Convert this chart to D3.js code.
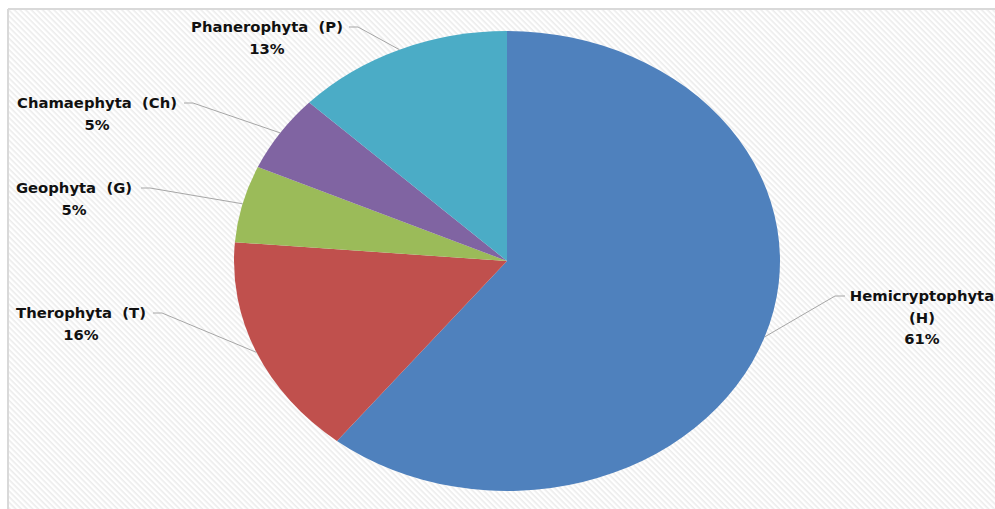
<!DOCTYPE html>
<html><head><meta charset="utf-8">
<script src="https://cdn.jsdelivr.net/npm/d3@7"></script>
<style>body{margin:0;background:#fff;}svg{display:block;}</style>
</head><body>
<svg id="c" width="995" height="509"></svg>
<script>
const categories = ["Hemicryptophyta (H)", "Therophyta  (T)", "Geophyta  (G)", "Chamaephyta  (Ch)", "Phanerophyta  (P)"];
const values = [60.7, 15.6, 5.4, 5.4, 12.9];
const colors = ["#4F81BD", "#C0504D", "#9BBB59", "#8064A2", "#4BACC6"];

// label layout (anchor x, first line baseline y, leader start x, side)
const labelLayout = [
  {lines:["Hemicryptophyta","(H)"], x:922, y:301, lx:845, side:"right"},
  {lines:["Therophyta  (T)"], x:81, y:318, lx:153, side:"left"},
  {lines:["Geophyta  (G)"], x:74, y:193, lx:141, side:"left"},
  {lines:["Chamaephyta  (Ch)"], x:97, y:108, lx:184, side:"left"},
  {lines:["Phanerophyta  (P)"], x:267, y:32, lx:349, side:"left"}
];

const svg = d3.select("#c");
const defs = svg.append("defs");
const pat = defs.append("pattern").attr("id","hatch").attr("patternUnits","userSpaceOnUse")
  .attr("width",4).attr("height",4).attr("patternTransform","rotate(45)");
pat.append("rect").attr("width",4).attr("height",4).attr("fill","#ffffff");
pat.append("rect").attr("width",4).attr("height",1.6).attr("fill","#ececec");

svg.append("rect").attr("x",8).attr("y",9).attr("width",995).attr("height",509).attr("fill","url(#hatch)");
svg.append("line").attr("x1",8).attr("x2",995).attr("y1",9).attr("y2",9).attr("stroke","#d9d9d9").attr("stroke-width",2);
svg.append("line").attr("x1",8).attr("x2",8).attr("y1",9).attr("y2",509).attr("stroke","#d9d9d9").attr("stroke-width",2);

const cx = 507, cy = 261, rx = 273, ry = 230;
const pie = d3.pie().sort(null).value(d=>d)(values);
const arc = d3.arc().innerRadius(0).outerRadius(ry);

const g = svg.append("g").attr("transform",`translate(${cx},${cy}) scale(${rx/ry},1)`);
g.selectAll("path").data(pie).join("path")
  .attr("d",arc).attr("fill",(d,i)=>colors[i]);

const total = d3.sum(values);
const fmt = v => Math.round(v/total*100) + "%";

labelLayout.forEach((L,i)=>{
  const p = pie[i];
  const a = (p.startAngle + p.endAngle)/2;
  const ex = cx + rx*Math.sin(a), ey = cy - ry*Math.cos(a);
  const ly = L.y - 5;
  const mx = L.side==="left" ? L.lx + 9 : L.lx - 10;
  svg.append("polyline").attr("points",`${L.lx},${ly} ${mx},${ly} ${ex},${ey}`)
    .attr("fill","none").attr("stroke","#a6a6a6").attr("stroke-width",1);
  const t = svg.append("text").attr("x",L.x).attr("y",L.y).attr("text-anchor","middle")
    .attr("font-family","DejaVu Sans, Verdana, sans-serif").attr("font-weight","bold")
    .attr("font-size",14.8).attr("fill","#111").style("white-space","pre");
  L.lines.concat([fmt(values[i])]).forEach((s,k)=>{
    t.append("tspan").attr("x",L.x).attr("dy",k===0?0:21.5).text(s);
  });
});
</script>
</body></html>
